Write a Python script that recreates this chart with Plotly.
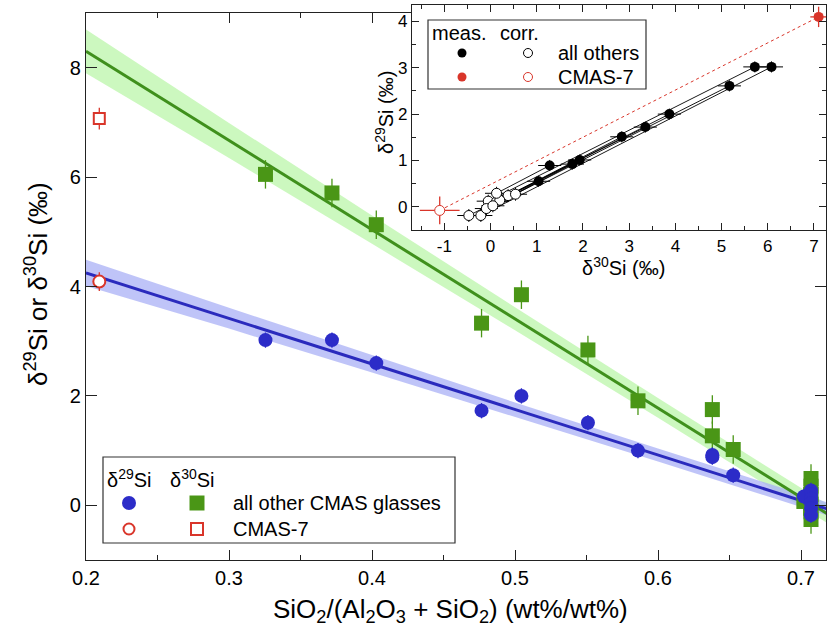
import plotly.graph_objects as go

FONT = "Liberation Sans, Arial, Helvetica, sans-serif"

# ---------------- main chart data ----------------
sample_ratio = [0.3255, 0.372, 0.403, 0.4766, 0.5045, 0.551, 0.586, 0.638, 0.638, 0.6526,
                0.702, 0.707, 0.707, 0.707, 0.707, 0.707, 0.707]
d29_values = [3.02, 3.02, 2.60, 1.73, 2.00, 1.51, 1.00, 0.92, 0.88, 0.55,
              0.16, 0.27, 0.20, 0.12, 0.04, -0.06, -0.18]
d30_values = [6.05, 5.71, 5.13, 3.33, 3.85, 2.84, 1.91, 1.75, 1.27, 1.02,
              0.07, 0.49, 0.35, 0.20, 0.02, -0.12, -0.26]
d29_err = 0.14
d30_err = 0.26

cmas7_ratio = [0.2093]
cmas7_d29 = [4.09]
cmas7_d30 = [7.07]
cmas7_d29_err = 0.17
cmas7_d30_err = 0.20

fit_ratio = [0.20, 0.30, 0.40, 0.50, 0.60, 0.70, 0.72]
d30_fit = [8.30, 6.67, 5.04, 3.41, 1.78, 0.15, -0.18]
d30_fit_hi = [8.70, 6.99, 5.30, 3.62, 1.96, 0.32, -0.01]
d30_fit_lo = [7.90, 6.35, 4.78, 3.20, 1.60, -0.02, -0.35]
d29_fit = [4.25, 3.42, 2.59, 1.75, 0.92, 0.09, -0.08]
d29_fit_hi = [4.49, 3.61, 2.75, 1.88, 1.04, 0.21, 0.04]
d29_fit_lo = [4.01, 3.23, 2.43, 1.62, 0.80, -0.03, -0.20]

# ---------------- inset data ----------------
meas_d30 = [6.08, 5.72, 5.17, 3.87, 3.35, 2.84, 1.93, 1.77, 1.28, 1.04]
meas_d29 = [3.02, 3.02, 2.61, 2.00, 1.72, 1.51, 1.01, 0.92, 0.89, 0.55]
corr_d30 = [-0.21, -0.05, -0.09, 0.38, -0.47, 0.13, 0.20, 0.54, 0.13, 0.05]
corr_d29 = [-0.19, 0.12, -0.04, 0.24, -0.19, 0.11, 0.14, 0.27, 0.29, 0.02]
cmas7_meas = [7.10, 4.10]
cmas7_corr = [-1.10, -0.08]
inset_tickvals = [-1, 0, 1, 2, 3, 4, 5, 6, 7]
inset_ticktext = ["-1", "0", "1", "2", "3", "4", "5", "6", "7"]
inset_ytickvals = [0, 1, 2, 3, 4]

# ---------------- colours ----------------
BLUE = "#2c2cc8"
BLUE_LINE = "#2a2abd"
BLUE_BAND = "rgba(170,176,245,0.75)"
GREEN = "#4a9616"
GREEN_LINE = "#3f901c"
GREEN_BAND = "rgba(195,247,180,0.85)"
RED = "#d9352a"
AXC = "#222222"

# figure geometry helpers (pixel -> paper)
ML, MR, MT, MB = 86, 2, 5, 69
W, H = 828, 629
PW, PH = W - ML - MR, H - MT - MB


def X(px):
    return (px - ML) / PW


def Y(py):
    return (H - MB - py) / PH


fig = go.Figure()

# confidence bands
fig.add_trace(go.Scatter(x=fit_ratio, y=d30_fit_lo, mode="lines", line=dict(width=0),
                         hoverinfo="skip", showlegend=False))
fig.add_trace(go.Scatter(x=fit_ratio, y=d30_fit_hi, mode="lines", line=dict(width=0),
                         fill="tonexty", fillcolor=GREEN_BAND, hoverinfo="skip", showlegend=False))
fig.add_trace(go.Scatter(x=fit_ratio, y=d29_fit_lo, mode="lines", line=dict(width=0),
                         hoverinfo="skip", showlegend=False))
fig.add_trace(go.Scatter(x=fit_ratio, y=d29_fit_hi, mode="lines", line=dict(width=0),
                         fill="tonexty", fillcolor=BLUE_BAND, hoverinfo="skip", showlegend=False))
# fit lines
fig.add_trace(go.Scatter(x=fit_ratio, y=d30_fit, mode="lines", line=dict(color=GREEN_LINE, width=3),
                         showlegend=False))
fig.add_trace(go.Scatter(x=fit_ratio, y=d29_fit, mode="lines", line=dict(color=BLUE_LINE, width=3),
                         showlegend=False))

# data points
fig.add_trace(go.Scatter(x=sample_ratio, y=d30_values, mode="markers",
                         marker=dict(symbol="square", size=15, color=GREEN, line=dict(width=0)),
                         error_y=dict(type="constant", value=d30_err, color=GREEN, thickness=1.3, width=0),
                         showlegend=False))
fig.add_trace(go.Scatter(x=sample_ratio, y=d29_values, mode="markers",
                         marker=dict(symbol="circle", size=14, color=BLUE, line=dict(width=0)),
                         error_y=dict(type="constant", value=d29_err, color=BLUE, thickness=1.3, width=0),
                         showlegend=False))
fig.add_trace(go.Scatter(x=cmas7_ratio, y=cmas7_d30, mode="markers",
                         marker=dict(symbol="square", size=11, color="white", line=dict(color=RED, width=2)),
                         error_y=dict(type="constant", value=cmas7_d30_err, color=RED, thickness=1.3, width=0),
                         showlegend=False))
fig.add_trace(go.Scatter(x=cmas7_ratio, y=cmas7_d29, mode="markers",
                         marker=dict(symbol="circle", size=12, color="white", line=dict(color=RED, width=2)),
                         error_y=dict(type="constant", value=cmas7_d29_err, color=RED, thickness=1.3, width=0),
                         showlegend=False))

# ---------------- inset traces ----------------
pair_x, pair_y = [], []
for mx, my, cx, cy in zip(meas_d30, meas_d29, corr_d30, corr_d29):
    pair_x += [mx, cx, None]
    pair_y += [my, cy, None]
fig.add_trace(go.Scatter(x=pair_x, y=pair_y, mode="lines", line=dict(color="black", width=0.9),
                         xaxis="x2", yaxis="y2", showlegend=False, hoverinfo="skip"))
fig.add_trace(go.Scatter(x=[cmas7_corr[0], cmas7_meas[0]], y=[cmas7_corr[1], cmas7_meas[1]], mode="lines",
                         line=dict(color=RED, width=1, dash="dot"),
                         xaxis="x2", yaxis="y2", showlegend=False, hoverinfo="skip"))
fig.add_trace(go.Scatter(x=corr_d30, y=corr_d29, mode="markers",
                         marker=dict(symbol="circle", size=10, color="white", line=dict(color="black", width=1)),
                         error_x=dict(type="constant", value=0.25, color="black", thickness=1, width=0),
                         error_y=dict(type="constant", value=0.14, color="black", thickness=1, width=0),
                         xaxis="x2", yaxis="y2", showlegend=False))
fig.add_trace(go.Scatter(x=meas_d30, y=meas_d29, mode="markers",
                         marker=dict(symbol="circle", size=10, color="black"),
                         error_x=dict(type="constant", value=0.25, color="black", thickness=1, width=0),
                         error_y=dict(type="constant", value=0.12, color="black", thickness=1, width=0),
                         xaxis="x2", yaxis="y2", showlegend=False))
fig.add_trace(go.Scatter(x=[cmas7_corr[0]], y=[cmas7_corr[1]], mode="markers",
                         marker=dict(symbol="circle", size=10, color="white", line=dict(color=RED, width=1)),
                         error_x=dict(type="constant", value=0.43, color=RED, thickness=1.3, width=0),
                         error_y=dict(type="constant", value=0.30, color=RED, thickness=1.3, width=0),
                         xaxis="x2", yaxis="y2", showlegend=False))
fig.add_trace(go.Scatter(x=[cmas7_meas[0]], y=[cmas7_meas[1]], mode="markers",
                         marker=dict(symbol="circle", size=10, color=RED),
                         error_x=dict(type="constant", value=0.18, color=RED, thickness=1.3, width=0),
                         error_y=dict(type="constant", value=0.22, color=RED, thickness=1.3, width=0),
                         xaxis="x2", yaxis="y2", showlegend=False))

# ---------------- axes ----------------
main_top = Y(13)
inset_left = X(412)
inset_bottom = Y(230)
x_max = 0.2 + PW / 1430.0

common = dict(showgrid=False, zeroline=False, showline=True, linecolor=AXC, linewidth=1.3,
              ticks="inside", tickcolor=AXC, tickwidth=1.2, mirror="ticks")

fig.update_layout(
    width=W, height=H,
    margin=dict(l=ML, r=MR, t=MT, b=MB),
    paper_bgcolor="white", plot_bgcolor="white",
    font=dict(family=FONT, color="black"),
    showlegend=False,
    xaxis=dict(domain=[0, 1], range=[0.2, x_max], anchor="y", dtick=0.1, tick0=0.2, tickformat=".1f",
               ticklen=10, tickfont=dict(size=20),
               minor=dict(ticks="inside", ticklen=5, dtick=0.05, tick0=0.2, tickcolor=AXC, tickwidth=1.2),
               **common),
    yaxis=dict(domain=[0, main_top], range=[-1, 9], anchor="x", dtick=2, tick0=0,
               ticklen=11, tickfont=dict(size=20), **common),
    xaxis2=dict(domain=[inset_left, 1], range=[-1.70, 7.26], anchor="y2",
                tickvals=inset_tickvals, ticktext=inset_ticktext, ticklen=7, tickfont=dict(size=17),
                minor=dict(ticks="inside", ticklen=4, dtick=0.5, tick0=0, tickcolor=AXC, tickwidth=1),
                **common),
    yaxis2=dict(domain=[inset_bottom, 1], range=[-0.503, 4.357], anchor="x2",
                tickvals=inset_ytickvals, ticklen=7, tickfont=dict(size=17),
                minor=dict(ticks="inside", ticklen=4, dtick=0.5, tick0=0, tickcolor=AXC, tickwidth=1),
                **common),
)

shapes = []
# inset background and zero lines
shapes.append(dict(type="rect", xref="x2 domain", yref="y2 domain", x0=0, x1=1, y0=0, y1=1,
                   fillcolor="#f7f7f7", line=dict(width=0), layer="below"))
shapes.append(dict(type="line", xref="x2", yref="y2 domain", x0=0, x1=0, y0=0, y1=1,
                   line=dict(color="#333", width=1, dash="dot"), layer="below"))
shapes.append(dict(type="line", xref="x2 domain", yref="y2", x0=0, x1=1, y0=0, y1=0,
                   line=dict(color="#333", width=1, dash="dot"), layer="below"))

# main legend box
shapes.append(dict(type="rect", xref="paper", yref="paper", x0=X(103), x1=X(455), y0=Y(543), y1=Y(457),
                   fillcolor="white", line=dict(color="#333", width=1.2), layer="above"))
# inset legend box
shapes.append(dict(type="rect", xref="paper", yref="paper", x0=X(428), x1=X(646), y0=Y(89), y1=Y(20),
                   fillcolor="white", line=dict(color="#333", width=1.2), layer="above"))


def marker_shape(kind, px, py, r, fill, line_color=None, lw=0):
    return dict(type=kind, xref="paper", yref="paper", xsizemode="pixel", ysizemode="pixel",
                xanchor=X(px), yanchor=Y(py), x0=-r, x1=r, y0=-r, y1=r,
                fillcolor=fill, line=dict(color=line_color or fill, width=lw), layer="above")


# main legend markers
shapes.append(marker_shape("circle", 129, 503, 7, BLUE))
shapes.append(marker_shape("rect", 197, 503, 7.5, GREEN))
shapes.append(marker_shape("circle", 129, 529, 5.5, "white", RED, 2))
shapes.append(marker_shape("rect", 197, 529, 6, "white", RED, 2))
# inset legend markers
shapes.append(marker_shape("circle", 462, 53, 4.5, "black"))
shapes.append(marker_shape("circle", 528, 53, 4.5, "white", "black", 1))
shapes.append(marker_shape("circle", 462, 77, 4.5, RED))
shapes.append(marker_shape("circle", 528, 77, 4.5, "white", RED, 1))
fig.update_layout(shapes=shapes)

ann = []


def txt(text, px, py, size, xanchor="left", angle=0):
    ann.append(dict(text=text, x=X(px), y=Y(py), xref="paper", yref="paper", showarrow=False,
                    xanchor=xanchor, yanchor="middle", textangle=angle,
                    font=dict(family=FONT, size=size, color="black")))


# main legend text
txt("δ<sup>29</sup>Si", 105, 478, 20)
txt("δ<sup>30</sup>Si", 168, 478, 20)
txt("all other CMAS glasses", 231, 503, 20)
txt("CMAS-7", 231, 529, 20)
# inset legend text
txt("meas.", 430, 33, 20)
txt("corr.", 498, 33, 20)
txt("all others", 556, 53, 20)
txt("CMAS-7", 556, 77, 20)
# axis titles
txt("SiO<sub>2</sub>/(Al<sub>2</sub>O<sub>3</sub> + SiO<sub>2</sub>) (wt%/wt%)", 450, 610, 26, "center")
txt("δ<sup>29</sup>Si or δ<sup>30</sup>Si (‰)", 36, 284, 26, "center", -90)
txt("δ<sup>30</sup>Si (‰)", 623, 266, 20, "center")
txt("δ<sup>29</sup>Si (‰)", 384, 113, 20, "center", -90)
fig.update_layout(annotations=ann)

fig.write_html("out.html")
